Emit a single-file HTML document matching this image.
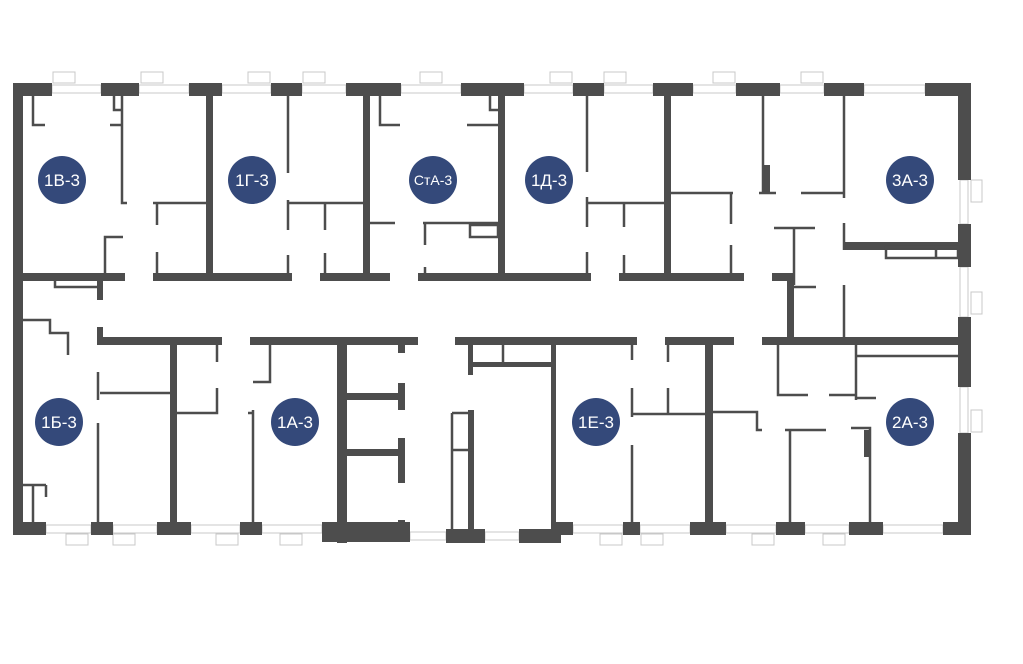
<!DOCTYPE html>
<html><head><meta charset="utf-8"><style>
html,body{margin:0;padding:0;background:#fff;}
svg{display:block;}
text{font-family:"Liberation Sans","DejaVu Sans",sans-serif;fill:#fff;}
</style></head><body>
<svg width="1023" height="664" viewBox="0 0 1023 664" xmlns="http://www.w3.org/2000/svg">
<!-- windows (openings) -->
<g fill="#fff" stroke="#c8c8c8" stroke-width="1">
<!-- top -->
<rect x="52" y="85" width="49" height="8"/><rect x="139" y="85" width="50" height="8"/><rect x="222" y="85" width="49" height="8"/><rect x="302" y="85" width="44" height="8"/><rect x="401" y="85" width="60" height="8"/><rect x="524" y="85" width="49" height="8"/><rect x="604" y="85" width="49" height="8"/><rect x="693" y="85" width="43" height="8"/><rect x="780" y="85" width="44" height="8"/><rect x="864" y="85" width="61" height="8"/>
<rect x="53" y="72" width="22" height="11"/><rect x="141" y="72" width="22" height="11"/><rect x="248" y="72" width="22" height="11"/><rect x="303" y="72" width="22" height="11"/><rect x="420" y="72" width="22" height="11"/><rect x="550" y="72" width="22" height="11"/><rect x="604" y="72" width="22" height="11"/><rect x="713" y="72" width="22" height="11"/><rect x="801" y="72" width="22" height="11"/>
<!-- right -->
<rect x="960" y="180" width="8" height="44"/><rect x="960" y="267" width="8" height="50"/><rect x="960" y="387" width="8" height="46"/>
<rect x="971" y="180" width="11" height="22"/><rect x="971" y="292" width="11" height="22"/><rect x="971" y="410" width="11" height="22"/>
<!-- bottom -->
<rect x="46" y="525" width="45" height="8"/><rect x="113" y="525" width="44" height="8"/><rect x="191" y="525" width="49" height="8"/><rect x="262" y="525" width="60" height="8"/><rect x="410" y="532" width="36" height="8"/><rect x="485" y="532" width="34" height="8"/><rect x="573" y="525" width="50" height="8"/><rect x="640" y="525" width="50" height="8"/><rect x="726" y="525" width="50" height="8"/><rect x="805" y="525" width="44" height="8"/><rect x="883" y="525" width="60" height="8"/>
<rect x="66" y="534" width="22" height="11"/><rect x="113" y="534" width="22" height="11"/><rect x="216" y="534" width="22" height="11"/><rect x="280" y="534" width="22" height="11"/><rect x="600" y="534" width="22" height="11"/><rect x="641" y="534" width="22" height="11"/><rect x="752" y="534" width="22" height="11"/><rect x="823" y="534" width="22" height="11"/>
</g>
<g fill="#4d4d4d">
<!-- outer -->
<rect x="13" y="83" width="10" height="452"/>
<rect x="13" y="83" width="39" height="13"/><rect x="101" y="83" width="38" height="13"/><rect x="189" y="83" width="33" height="13"/><rect x="271" y="83" width="31" height="13"/><rect x="346" y="83" width="55" height="13"/><rect x="461" y="83" width="63" height="13"/><rect x="573" y="83" width="31" height="13"/><rect x="653" y="83" width="40" height="13"/><rect x="736" y="83" width="44" height="13"/><rect x="824" y="83" width="40" height="13"/><rect x="925" y="83" width="46" height="13"/>
<rect x="958" y="83" width="13" height="97"/><rect x="958" y="224" width="13" height="43"/><rect x="958" y="317" width="13" height="70"/><rect x="958" y="433" width="13" height="102"/>
<rect x="13" y="522" width="33" height="13"/><rect x="91" y="522" width="22" height="13"/><rect x="157" y="522" width="34" height="13"/><rect x="240" y="522" width="22" height="13"/><rect x="322" y="522" width="88" height="20"/><rect x="446" y="529" width="39" height="14"/><rect x="519" y="529" width="42" height="14"/><rect x="555" y="522" width="18" height="13"/><rect x="623" y="522" width="17" height="13"/><rect x="690" y="522" width="36" height="13"/><rect x="776" y="522" width="29" height="13"/><rect x="849" y="522" width="34" height="13"/><rect x="943" y="522" width="28" height="13"/>
<!-- corridor upper -->
<rect x="22" y="273" width="103" height="8"/><rect x="153" y="273" width="139" height="8"/><rect x="320" y="273" width="70" height="8"/><rect x="418" y="273" width="80" height="8"/><rect x="505" y="273" width="86" height="8"/><rect x="619" y="273" width="125" height="8"/><rect x="772" y="273" width="22" height="8"/>
<!-- corridor lower -->
<rect x="97" y="337" width="125" height="8"/><rect x="250" y="337" width="168" height="8"/><rect x="455" y="337" width="182" height="8"/><rect x="665" y="337" width="69" height="8"/><rect x="762" y="337" width="196" height="8"/>
<!-- vertical thick -->
<rect x="206" y="83" width="7" height="198"/><rect x="363" y="83" width="7" height="198"/><rect x="498" y="83" width="7" height="198"/><rect x="664" y="83" width="7" height="198"/><rect x="787" y="273" width="7" height="72"/>
<rect x="170" y="337" width="7" height="196"/><rect x="337" y="337" width="10" height="206"/><rect x="468" y="410" width="6" height="130"/><rect x="551" y="337" width="5" height="196"/><rect x="705" y="337" width="8" height="196"/>
<rect x="398" y="343" width="7" height="10"/><rect x="398" y="383" width="7" height="27"/><rect x="398" y="438" width="7" height="45"/><rect x="398" y="520" width="7" height="15"/>
<rect x="347" y="393" width="58" height="7"/><rect x="347" y="449" width="58" height="7"/>
<rect x="844" y="242" width="114" height="8"/>
<rect x="97" y="280" width="6" height="20"/><rect x="97" y="327" width="6" height="13"/>
<rect x="468" y="338" width="5" height="37"/><rect x="473" y="362" width="82" height="5"/>
<rect x="763" y="165" width="7" height="28"/><rect x="864" y="430" width="6" height="27"/>
</g>
<g stroke="#4d4d4d" stroke-width="2.5" fill="none">
<path d="M33 96V125H45M114 96V110H122M122 96V203H127M110 125H122M105 274V237H123"/>
<path d="M153 203H206M157 203V225M157 252V274"/>
<path d="M288 96V173M288 200V230M288 255V274M288 203H363M325 203V230M325 253V274"/>
<path d="M380 96V125H400M370 223H395M423 223H498M425 223V245M425 267V274M470 225H498V237H470Z M490 96V110H498M467 125H498"/>
<path d="M22 320H50V333H68V355M55 280V287H100"/>
<path d="M98 372V400M100 393H170M98 423V523M22 485H46M33 485V523M46 485V497"/>
<path d="M217 345V362M217 388V413H177"/>
<path d="M253 382H270V345M253 410V523M248 413H253"/>
<path d="M452 413H473M452 413V530M452 450H473M503 340V364"/>
<path d="M587 96V172M587 197V227M587 252V274M587 203H664M624 203V227M624 255V274"/>
<path d="M671 193H733M731 193V224M731 245V274"/>
<path d="M763 96V193M759 193H776M801 193H844M844 96V198M844 223V250"/>
<path d="M774 228H815M794 228V285M794 287H816M844 285V338"/>
<path d="M856 356H958M856 344V400M778 344V395H808M829 395H856M856 398H876M936 247V258M886 247H958V258H886Z"/>
<path d="M632 344V360M632 388V417M632 414H705M668 344V362M668 388V414M632 445V523"/>
<path d="M713 412H757V430H762M785 430H826M790 430V523M851 428H870V523"/>
</g>
<g fill="#34497a">
<circle cx="62" cy="180" r="24"/><circle cx="252" cy="180" r="24"/><circle cx="433" cy="180" r="24"/><circle cx="549" cy="180" r="24"/><circle cx="910" cy="180" r="24"/>
<circle cx="59" cy="422" r="24"/><circle cx="295" cy="422" r="24"/><circle cx="596" cy="422" r="24"/><circle cx="910" cy="422" r="24"/>
</g>
<g font-size="17" text-anchor="middle">
<text x="62" y="186">1В-3</text><text x="252" y="186">1Г-3</text><text x="433" y="185" font-size="14">СтА-3</text><text x="549" y="186">1Д-3</text><text x="910" y="186">3А-3</text>
<text x="59" y="428">1Б-3</text><text x="295" y="428">1А-3</text><text x="596" y="428">1Е-3</text><text x="910" y="428">2А-3</text>
</g>
</svg>
</body></html>
